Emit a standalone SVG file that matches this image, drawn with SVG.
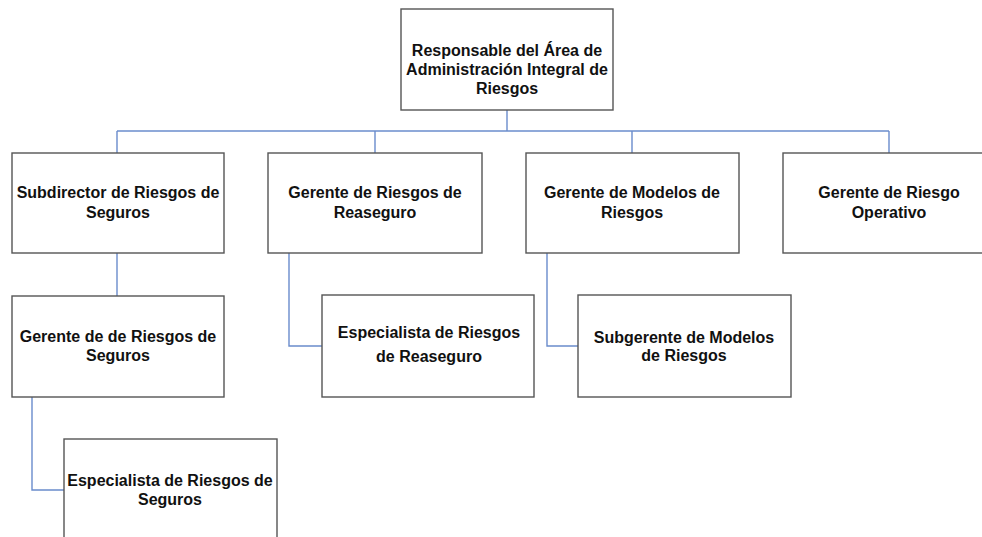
<svg xmlns="http://www.w3.org/2000/svg" width="982" height="537" viewBox="0 0 982 537">
<style>
.box{fill:#ffffff;stroke:#555555;stroke-width:1.4}
.conn{fill:none;stroke:#6a8ccc;stroke-width:1.4}
text{font-family:"Liberation Sans",Arial,sans-serif;font-weight:bold;font-size:16px;fill:#111111;text-anchor:middle}
</style>
<rect width="982" height="537" fill="#ffffff"/>
<g id="connectors">
<path class="conn" d="M507,110 V131"/>
<path class="conn" d="M117,131 H889"/>
<path class="conn" d="M117,131 V153 M375,131 V153 M632,131 V153 M889,131 V153"/>
<path class="conn" d="M117,253 V296"/>
<path class="conn" d="M289,253 V346 H322"/>
<path class="conn" d="M547,253 V346 H578"/>
<path class="conn" d="M32,397 V490 H64"/>
</g>
<g id="n-responsable">
<rect class="box" x="401" y="9" width="212" height="101"/>
<text x="507" y="56">Responsable del Área de</text>
<text x="507" y="75">Administración Integral de</text>
<text x="507" y="94">Riesgos</text>
</g>
<g id="n-subdirector">
<rect class="box" x="12" y="153" width="212" height="100"/>
<text x="118" y="198">Subdirector de Riesgos de</text>
<text x="118" y="218">Seguros</text>
</g>
<g id="n-gerente-reaseguro">
<rect class="box" x="268" y="153" width="214" height="100"/>
<text x="375" y="198">Gerente de Riesgos de</text>
<text x="375" y="218">Reaseguro</text>
</g>
<g id="n-gerente-modelos">
<rect class="box" x="526" y="153" width="213" height="100"/>
<text x="632" y="198">Gerente de Modelos de</text>
<text x="632" y="218">Riesgos</text>
</g>
<g id="n-gerente-operativo">
<rect class="box" x="783" y="153" width="213" height="100"/>
<text x="889" y="198">Gerente de Riesgo</text>
<text x="889" y="218">Operativo</text>
</g>
<g id="n-gerente-seguros">
<rect class="box" x="12" y="296" width="212" height="101"/>
<text x="118" y="342">Gerente de de Riesgos de</text>
<text x="118" y="361">Seguros</text>
</g>
<g id="n-especialista-reaseguro">
<rect class="box" x="322" y="295" width="212" height="102"/>
<text x="429" y="338">Especialista de Riesgos</text>
<text x="429" y="362">de Reaseguro</text>
</g>
<g id="n-subgerente-modelos">
<rect class="box" x="578" y="295" width="213" height="102"/>
<text x="684" y="343">Subgerente de Modelos</text>
<text x="684" y="361">de Riesgos</text>
</g>
<g id="n-especialista-seguros">
<rect class="box" x="64" y="439" width="213" height="110"/>
<text x="170" y="486">Especialista de Riesgos de</text>
<text x="170" y="505">Seguros</text>
</g>
</svg>
